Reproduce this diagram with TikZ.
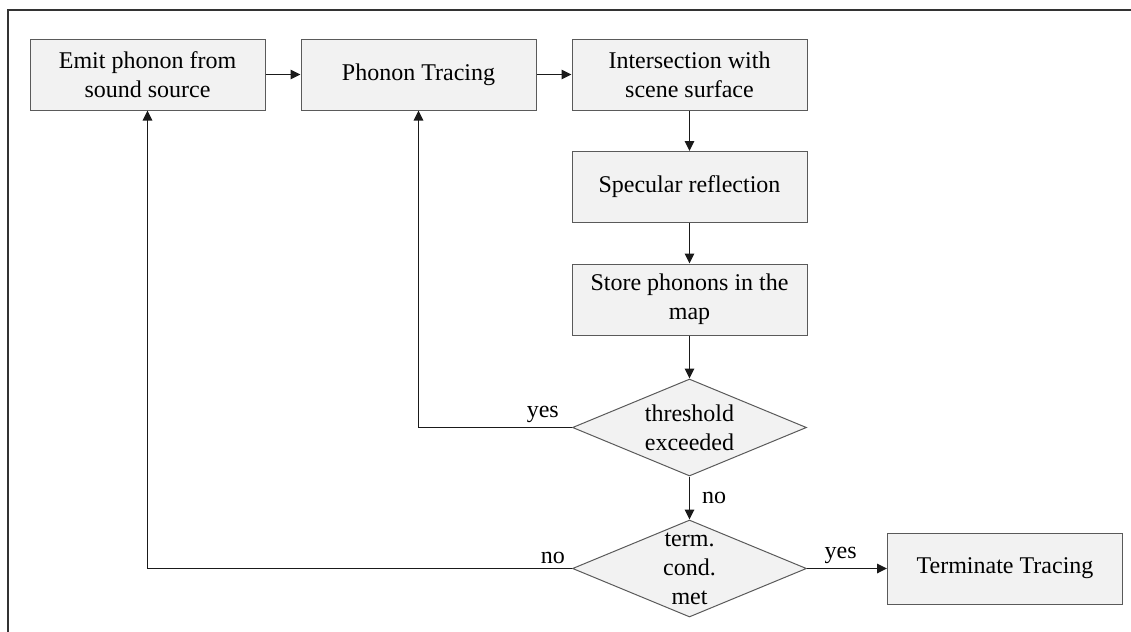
\documentclass[tikz,border=0pt]{standalone}
\usepackage{fontspec}
\setmainfont{Liberation Serif}
\usepackage{tikz}
\usetikzlibrary{positioning,shapes.geometric,arrows.meta,calc}
\definecolor{ink}    {HTML}{1A1A1A}
\definecolor{boxline}{HTML}{5A5A5A}
\definecolor{boxfill}{HTML}{F2F2F2}
\definecolor{frame}  {HTML}{333333}
\tikzset{
  >={Triangle[length=5pt,width=4.8pt]},
  every node/.style={font=\fontsize{12}{14.5}\selectfont},
  % --- nodes
  proc/.style  = {draw=boxline, fill=boxfill, align=center, line width=0.5pt,
                  minimum width=117.5pt, minimum height=35.5pt, inner sep=2pt},
  decide/.style= {diamond, draw=boxline, fill=boxfill, align=center, line width=0.5pt,
                  aspect=2.4, minimum width=117pt, minimum height=48.5pt, inner sep=0pt},
  lbl/.style   = {inner sep=2pt},
  % --- edges
  e/.style     = {->, draw=ink, line width=0.7pt},
}
\begin{document}
\begin{tikzpicture}[x=0.5pt,y=-0.5pt]
  \useasboundingbox (0,0) rectangle (1131,632);
  \draw[frame, line width=0.7pt] (8,10) rectangle (1140,645);

  \node[proc]   (emit)   at (147.5,74.5)  {Emit phonon from\\sound source};
  \node[proc]   (trace)  at (418.5,74.5)  {Phonon Tracing};
  \node[proc]   (isect)  at (689.5,74.5)  {Intersection with\\scene surface};
  \node[proc]   (spec)   at (689.5,187)   {Specular reflection};
  \node[proc]   (store)  at (689.5,299.5) {Store phonons in the\\map};
  \node[decide] (thresh) at (689.5,427.5) {threshold\\exceeded};
  \node[decide] (term)   at (689.5,568.5) {term.\\cond.\\met};
  \node[proc]   (stop)   at (1005,568.5)  {Terminate Tracing};

  \draw[e] (emit) -- (trace);
  \draw[e] (trace) -- (isect);
  \draw[e] (isect) -- (spec);
  \draw[e] (spec) -- (store);
  \draw[e] (store) -- (thresh);
  \draw[e] (thresh) -- node[lbl, right, xshift=4pt] {no} (term);
  \draw[e] (thresh.west) -- node[lbl, above, pos=0.19] {yes} (trace.south |- thresh.west) -- (trace.south);
  \draw[e] (term.west) -- node[lbl, above, pos=0.045] {no} (emit.south |- term.west) -- (emit.south);
  \draw[e] (term.east) -- node[lbl, above, pos=0.42] {yes} (stop.west);
\end{tikzpicture}
\end{document}
